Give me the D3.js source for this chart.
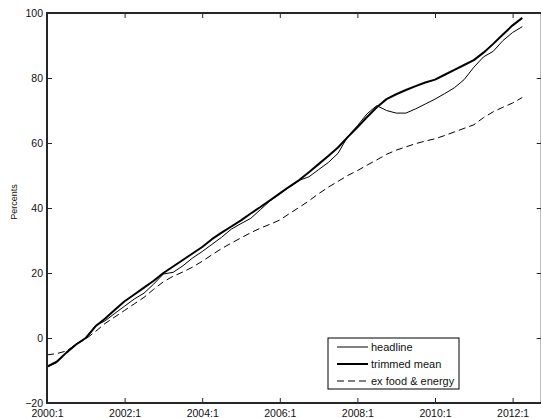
<!DOCTYPE html>
<html>
<head>
<meta charset="utf-8">
<script src="https://cdn.jsdelivr.net/npm/d3@7/dist/d3.min.js"></script>
<style>
  html, body { margin: 0; padding: 0; background: #fff; }
  svg { display: block; font-family: "Liberation Sans", Arial, Helvetica, sans-serif; }
</style>
</head>
<body>
<script>
// Cumulative price growth since 2000:1, quarterly observations (2000:1 .. 2012:2)
const headline = [
  -9.0, -7.6, -4.5, -1.8, 0.0, 3.8, 5.3, 7.6, 9.8, 12.0,
  13.8, 16.6, 19.7, 20.2, 22.2, 24.6, 26.6, 28.8, 31.0, 33.5,
  35.2, 36.8, 39.5, 42.2, 44.3, 46.5, 48.5, 49.6, 51.8, 54.0,
  56.8, 62.0, 65.3, 69.0, 71.5, 70.0, 69.2, 69.2, 70.5, 72.0,
  73.5, 75.2, 77.0, 79.5, 83.3, 86.5, 88.2, 91.5, 94.0, 95.8
];
const trimmedMean = [
  -8.8, -7.3, -4.5, -2.0, 0.0, 3.6, 6.0, 8.7, 11.3, 13.4,
  15.5, 17.6, 20.0, 22.0, 24.0, 26.0, 28.0, 30.4, 32.4, 34.3,
  36.2, 38.3, 40.3, 42.4, 44.5, 46.6, 48.6, 51.0, 53.5, 56.0,
  58.6, 61.8, 64.8, 68.0, 71.0, 73.5, 75.0, 76.3, 77.5, 78.6,
  79.5, 81.0, 82.5, 84.0, 85.5, 87.8, 90.5, 93.4, 96.2, 98.5
];
const exFoodEnergy = [
  -5.2, -4.8, -4.0, -2.0, -0.3, 2.0, 4.5, 6.5, 8.5, 10.5,
  12.5, 15.0, 17.3, 19.0, 20.3, 21.8, 23.6, 25.6, 27.5, 29.2,
  30.8, 32.4, 33.8, 35.0, 36.3, 38.3, 40.2, 42.2, 44.4, 46.4,
  48.2, 50.0, 51.5, 53.2, 54.8, 56.5, 57.8, 58.8, 59.8, 60.6,
  61.3, 62.3, 63.4, 64.5, 65.6, 67.8, 69.6, 71.0, 72.3, 74.0
];
const seriesNames = ["headline", "trimmed mean", "ex food & energy"];
const xTickIndex = [0, 8, 16, 24, 32, 40, 48];
const xTickLabels = ["2000:1", "2002:1", "2004:1", "2006:1", "2008:1", "2010:1", "2012:1"];
const yTicks = [-20, 0, 20, 40, 60, 80, 100];

const W = 541, H = 418;
const svg = d3.select("body").append("svg").attr("width", W).attr("height", H);

const plotLeft = 47, plotTop = 13, plotBottom = 403;
const x = d3.scaleLinear().domain([0, 51]).range([plotLeft, plotLeft + 9.70 * 51]);
const y = d3.scaleLinear().domain([-20, 100]).range([plotBottom, plotTop]);
const plotRight = x(51);

const ink = "#000";
const frame = "#262626";
const labelSize = 10.5;

// plotted lines
const line = d3.line().x((d, i) => x(i)).y(d => y(d));
const styles = [
  { data: headline, width: 1, dash: null },
  { data: trimmedMean, width: 2, dash: null },
  { data: exFoodEnergy, width: 1, dash: "7,4" }
];
styles.forEach(s => {
  svg.append("path")
    .attr("d", line(s.data))
    .attr("fill", "none")
    .attr("stroke", ink)
    .attr("stroke-width", s.width)
    .attr("stroke-linejoin", "round")
    .attr("stroke-dasharray", s.dash);
});

// axes with inward ticks on all four sides
const tickLen = 5;
const xBottom = d3.axisBottom(x).tickValues(xTickIndex)
  .tickFormat((d, i) => xTickLabels[i]).tickSizeInner(-tickLen).tickSizeOuter(0).tickPadding(7);
const xTop = d3.axisTop(x).tickValues(xTickIndex)
  .tickFormat("").tickSizeInner(-tickLen).tickSizeOuter(0);
const yLeft = d3.axisLeft(y).tickValues(yTicks)
  .tickSizeInner(-tickLen).tickSizeOuter(0).tickPadding(4);
const yRight = d3.axisRight(y).tickValues(yTicks)
  .tickFormat("").tickSizeInner(-tickLen).tickSizeOuter(0);

function styleAxis(g) {
  g.select(".domain").remove();
  g.selectAll(".tick line").attr("stroke", frame).attr("stroke-width", 1);
  g.selectAll(".tick text").attr("fill", "#111").attr("font-size", labelSize)
    .attr("font-family", "'Liberation Sans', Arial, sans-serif");
}
svg.append("g").attr("transform", `translate(0,${plotBottom})`).call(xBottom).call(styleAxis);
svg.append("g").attr("transform", `translate(0,${plotTop})`).call(xTop).call(styleAxis);
svg.append("g").attr("transform", `translate(${plotLeft},0)`).call(yLeft).call(styleAxis);
svg.append("g").attr("transform", `translate(${plotRight},0)`).call(yRight).call(styleAxis);

// box
svg.append("rect")
  .attr("x", plotLeft).attr("y", plotTop)
  .attr("width", plotRight - plotLeft).attr("height", plotBottom - plotTop)
  .attr("fill", "none").attr("stroke", frame).attr("stroke-width", 2);

// y label
svg.append("text")
  .attr("transform", "translate(17,202) rotate(-90)")
  .attr("text-anchor", "middle")
  .attr("font-size", 9)
  .attr("fill", "#111")
  .text("Percents");

// legend
const lg = svg.append("g").attr("transform", "translate(328,338)");
lg.append("rect").attr("width", 131).attr("height", 51)
  .attr("fill", "#fff").attr("stroke", ink).attr("stroke-width", 1);
styles.forEach((s, i) => {
  const ly = 9 + i * 17;
  lg.append("line")
    .attr("x1", 9).attr("x2", 40).attr("y1", ly).attr("y2", ly)
    .attr("stroke", ink).attr("stroke-width", s.width)
    .attr("stroke-dasharray", s.dash);
  lg.append("text")
    .attr("x", 43).attr("y", ly).attr("dy", "0.35em")
    .attr("font-size", 11).attr("fill", "#111")
    .text(seriesNames[i]);
});
</script>
</body>
</html>
